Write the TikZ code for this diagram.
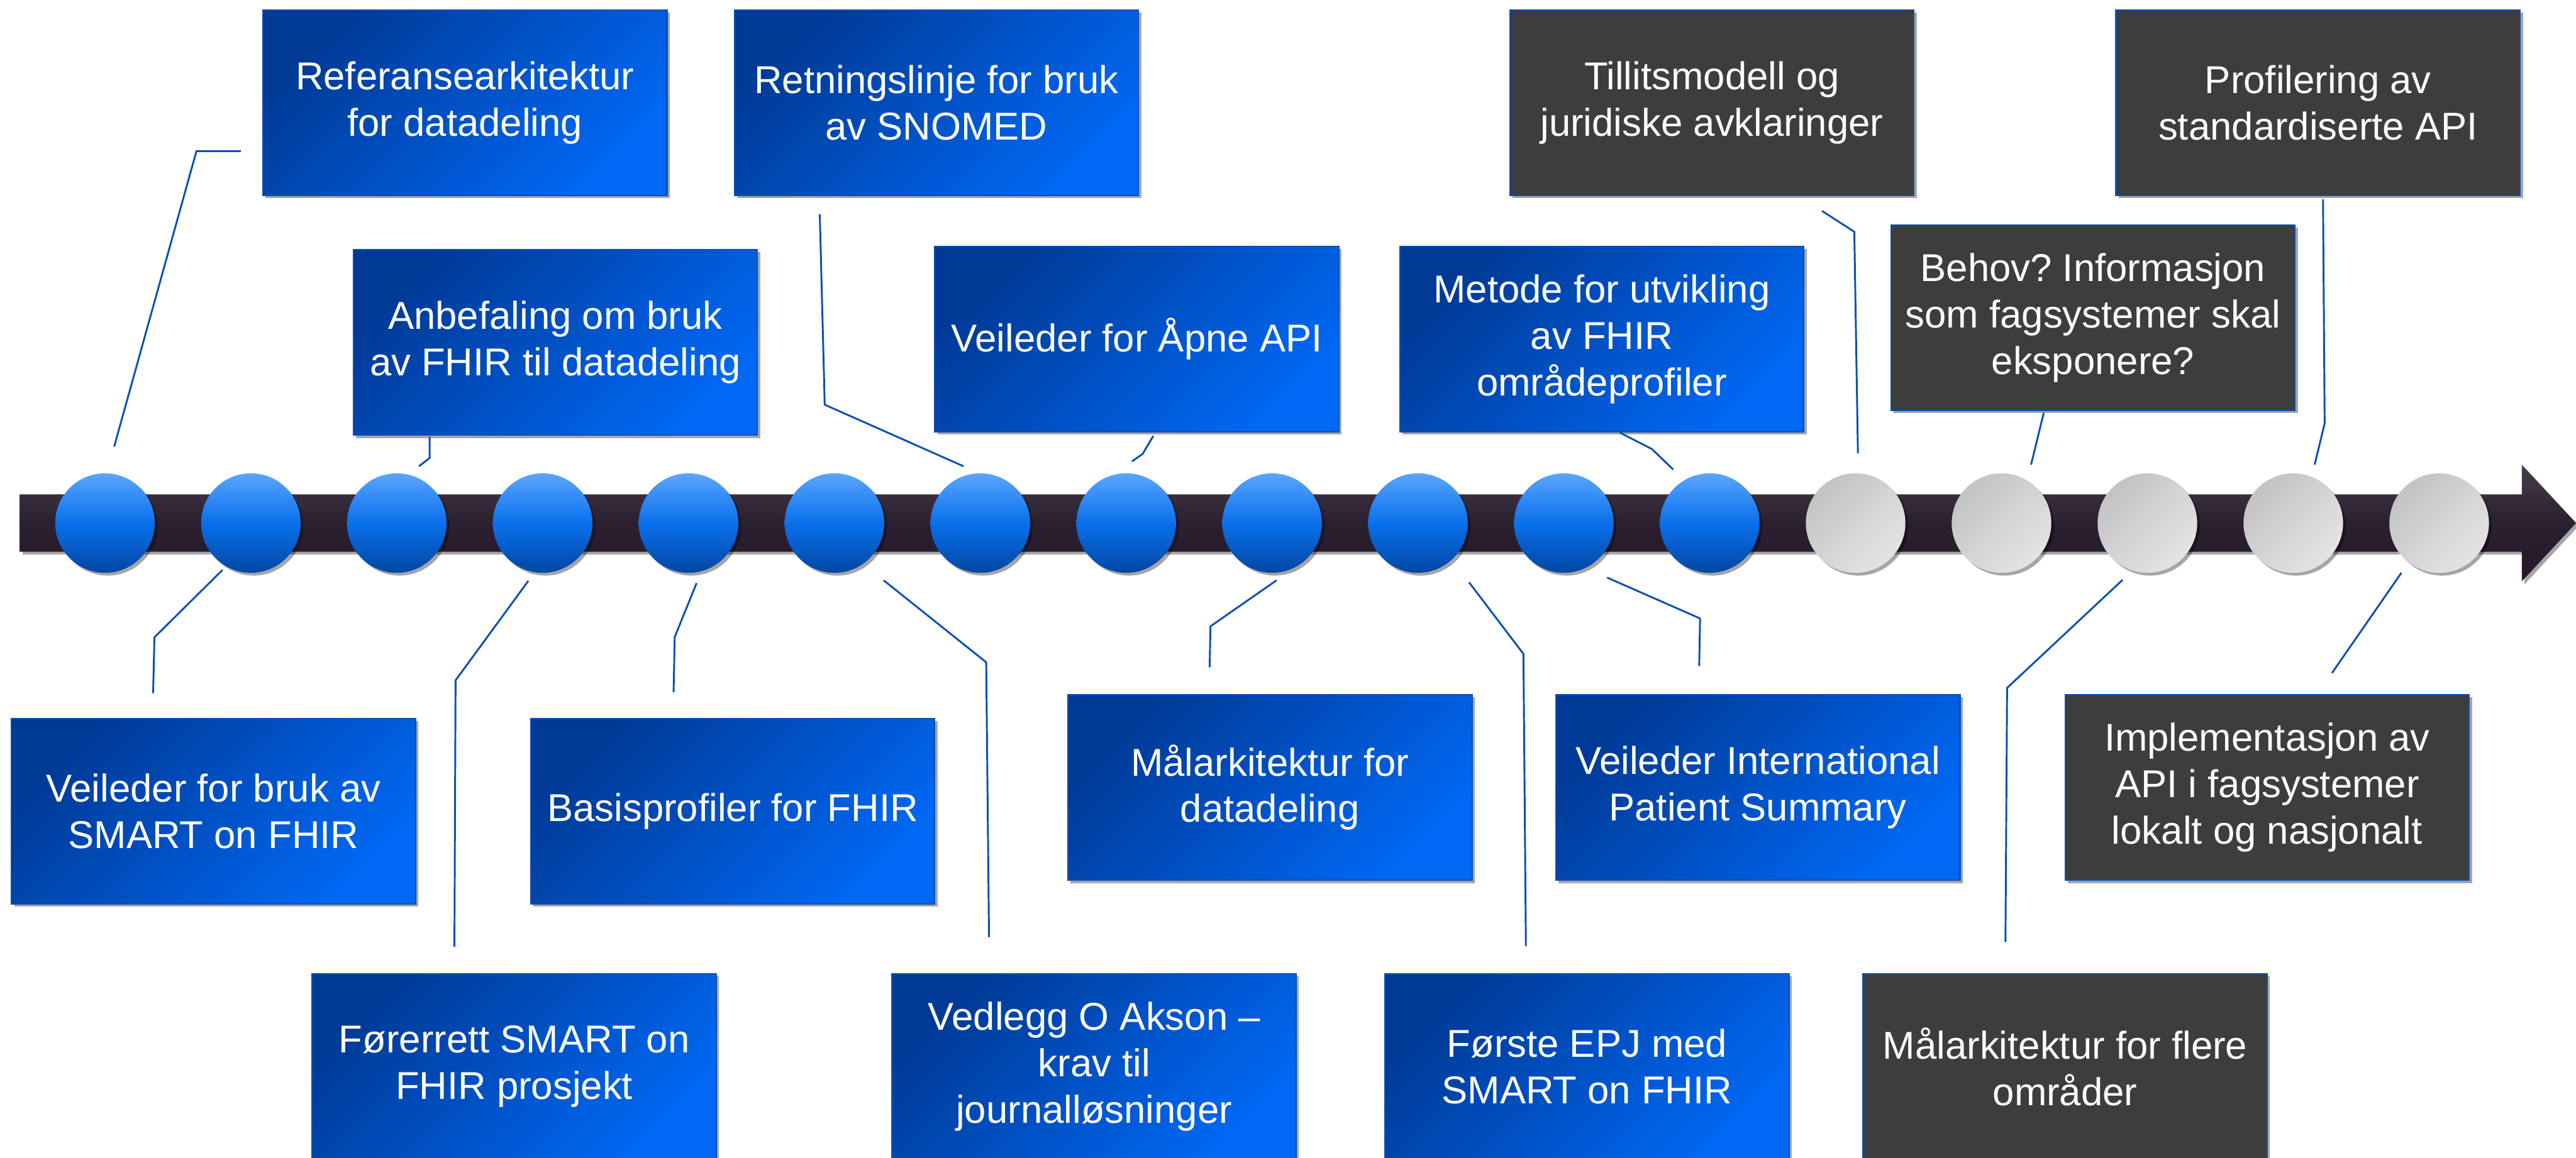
\documentclass[tikz,border=0pt]{standalone}
\usepackage{fontspec}
\setmainfont{Liberation Sans}
\usetikzlibrary{shadows}

\definecolor{boxdark}{HTML}{003A96}
\definecolor{boxlite}{HTML}{0068F4}
\definecolor{boxgrey}{HTML}{3D3D3D}
\definecolor{linkblue}{HTML}{0A50B4}
\definecolor{dotlite}{HTML}{5AA6FF}
\definecolor{dotmid}{HTML}{0A70EC}
\definecolor{dotdark}{HTML}{0047A2}
\definecolor{fogdark}{HTML}{C3C3C3}
\definecolor{foglite}{HTML}{E4E4E4}
\definecolor{bartop}{HTML}{463C4A}
\definecolor{barmid}{HTML}{2B2030}
\definecolor{barbot}{HTML}{241828}

\begin{document}
\begin{tikzpicture}[
  x=0.25mm, y=-0.25mm,
  font=\fontsize{16.8}{20.1}\selectfont\frenchspacing,
  shadowed/.style={drop shadow={shadow xshift=1.2pt, shadow yshift=-1.2pt, opacity=0.35, fill=black}},
  card/.style={shadowed, draw=linkblue, line width=0.6pt, align=center, text=white,
    minimum width=61.5mm, minimum height=28.25mm, inner sep=2pt},
  done/.style={card, top color=boxdark, bottom color=boxlite, shading angle=45},
  todo/.style={card, fill=boxgrey},
  dot/.style={circle, shadowed, minimum size=15.15mm, inner sep=0pt},
  reached/.style={dot, top color=dotlite, bottom color=dotdark, middle color=dotmid},
  ahead/.style={dot, top color=fogdark, bottom color=foglite, shading angle=45},
  link/.style={draw=linkblue, line width=0.8pt}
]
  \useasboundingbox (0,0) rectangle (1568,705);

  % time line
  \shade[shadowed, top color=bartop, bottom color=barbot, middle color=barmid]
    (12,301) -- (1535,301) -- (1535,283) -- (1568,318.5)
    -- (1535,354) -- (1535,336) -- (12,336) -- cycle;

  % milestones
  \foreach \i in {1,...,12}
    \node[reached] (c\i) at ({63.9+88.8*(\i-1)},318.5) {};
  \foreach \i in {13,...,17}
    \node[ahead] (c\i) at ({63.9+88.8*(\i-1)},318.5) {};

  % above the line
  \node[done] (ref) at (283,62.5) {Referansearkitektur\\for datadeling};
  \node[done] (snomed) at (570,62.5) {Retningslinje for bruk\\av SNOMED};
  \node[done] (fhirrec) at (338,208.5) {Anbefaling om bruk\\av FHIR til datadeling};
  \node[done] (openapi) at (692,206.5) {Veileder for Åpne API};
  \node[done] (metode) at (975,206.5) {Metode for utvikling\\av FHIR\\områdeprofiler};
  \node[todo] (trust) at (1042,62.5) {Tillitsmodell og\\juridiske avklaringer};
  \node[todo] (profil) at (1411,62.5) {Profilering av\\standardiserte API};
  \node[todo] (behov) at (1274,193.5) {Behov? Informasjon\\som fagsystemer skal\\eksponere?};

  % below the line
  \node[done] (smartguide) at (130,494) {Veileder for bruk av\\SMART on FHIR};
  \node[done] (basis) at (446,494) {Basisprofiler for FHIR};
  \node[done] (target) at (773,479.5) {Målarkitektur for\\datadeling};
  \node[done] (ips) at (1070,479.5) {Veileder International\\Patient Summary};
  \node[todo] (impl) at (1380,479.5) {Implementasjon av\\API i fagsystemer\\lokalt og nasjonalt};
  \node[done] (pilot) at (313,649.5) {Førerrett SMART on\\FHIR prosjekt};
  \node[done] (akson) at (666,649.5) {Vedlegg O Akson –\\krav til\\journalløsninger};
  \node[done] (firstepj) at (966,649.5) {Første EPJ med\\SMART on FHIR};
  \node[todo] (moretarget) at (1257,649.5) {Målarkitektur for flere\\områder};

  % leader lines, top
  \draw[link] ([shift={(-13,29.5)}]ref.west) -- ++(-27,0) -- ([shift={(5.6,-16)}]c1.north);
  \draw[link] ([shift={(-71,11)}]snomed.south) -- ++(3,116) -- ([shift={(-10.2,-4)}]c7.north);
  \draw[link] ([shift={(-76.5,0.5)}]fhirrec.south) -- ++(0,13) -- ([shift={(13.5,-4)}]c3.north);
  \draw[link] ([shift={(10,2)}]openapi.south) -- ++(-6.5,11) -- ([shift={(3.5,-7)}]c8.north);
  \draw[link] ([shift={(11,0)}]metode.south) -- ++(19.5,10) -- ([shift={(-22.2,-2)}]c12.north);
  \draw[link] ([shift={(67,9)}]trust.south) -- ++(19.7,12.7) -- ([shift={(1.4,-12)}]c13.north);
  \draw[link] ([shift={(-30,1)}]behov.south) -- ([shift={(18,-5)}]c14.north);
  \draw[link] ([shift={(3,2)}]profil.south) -- ++(1,136.4) -- ([shift={(13,-5)}]c16.north);

  % leader lines, bottom
  \draw[link] ([shift={(-36.8,-15)}]smartguide.north) -- ++(0.8,-34) -- ([shift={(-17.3,-2)}]c2.south);
  \draw[link] ([shift={(-36.4,-16)}]pilot.north) -- ++(0.7,-162.3) -- ([shift={(-8.7,4.6)}]c4.south);
  \draw[link] ([shift={(-36,-15.6)}]basis.north) -- ++(0.7,-33.6) -- ([shift={(4.9,6)}]c5.south);
  \draw[link] ([shift={(-64,-22)}]akson.north) -- ++(-1.7,-167.3) -- ([shift={(30,4.3)}]c6.south);
  \draw[link] ([shift={(-36.7,-16.3)}]target.north) -- ++(0.5,-24.9) -- ([shift={(2.7,4.3)}]c9.south);
  \draw[link] ([shift={(-37.2,-16.5)}]firstepj.north) -- ++(-1.5,-177.9) -- ([shift={(31.1,5.5)}]c10.south);
  \draw[link] ([shift={(-35.7,-17)}]ips.north) -- ++(0.5,-29) -- ([shift={(26.3,2.6)}]c11.south);
  \draw[link] ([shift={(-36.3,-19)}]moretarget.north) -- ++(1,-154.7) -- ([shift={(-15.1,4)}]c15.south);
  \draw[link] ([shift={(39.4,-12.7)}]impl.north) -- ([shift={(-23,-0.3)}]c17.south);
\end{tikzpicture}
\end{document}
